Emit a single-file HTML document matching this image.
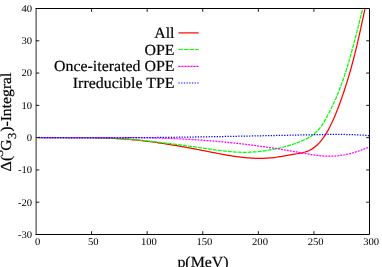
<!DOCTYPE html>
<html><head><meta charset="utf-8"><title>Plot</title>
<style>
html,body{margin:0;padding:0;background:#fff;}
body{width:382px;height:267px;overflow:hidden;position:relative;}
svg{position:absolute;left:0;top:0;display:block;}
text{font-family:"Liberation Serif",serif;fill:#000;text-rendering:geometricPrecision;}
.b text{stroke:#000;stroke-width:0.2;}
.t{filter:grayscale(1);}
</style></head><body>
<svg width="382" height="267" viewBox="0 0 382 267">
<rect x="0" y="0" width="382" height="267" fill="#fff"/>
<defs><clipPath id="c"><rect x="36.00" y="8.50" width="333.50" height="226.00"/></clipPath></defs>
<g clip-path="url(#c)" fill="none" stroke-width="1.25">
<path d="M38.50,137.62 L40.57,137.63 L42.63,137.64 L44.70,137.65 L46.76,137.65 L48.83,137.65 L50.90,137.65 L52.96,137.65 L55.03,137.64 L57.09,137.64 L59.16,137.63 L61.23,137.62 L63.29,137.62 L65.36,137.61 L67.42,137.60 L69.49,137.60 L71.56,137.60 L73.62,137.59 L75.69,137.59 L77.75,137.60 L79.82,137.60 L81.89,137.61 L83.95,137.62 L86.02,137.64 L88.08,137.66 L90.15,137.68 L92.22,137.71 L94.28,137.74 L96.35,137.78 L98.42,137.82 L100.48,137.87 L102.55,137.93 L104.61,138.00 L106.68,138.07 L108.75,138.14 L110.81,138.23 L112.88,138.33 L114.94,138.43 L117.01,138.54 L119.08,138.66 L121.14,138.79 L123.21,138.93 L125.27,139.08 L127.34,139.24 L129.41,139.41 L131.47,139.60 L133.54,139.79 L135.60,139.99 L137.67,140.20 L139.74,140.42 L141.80,140.65 L143.87,140.89 L145.93,141.14 L148.00,141.39 L150.07,141.66 L152.13,141.93 L154.20,142.21 L156.26,142.49 L158.33,142.79 L160.40,143.09 L162.46,143.40 L164.53,143.72 L166.59,144.04 L168.66,144.37 L170.73,144.70 L172.79,145.04 L174.86,145.39 L176.92,145.74 L178.99,146.09 L181.06,146.45 L183.12,146.82 L185.19,147.19 L187.25,147.56 L189.32,147.94 L191.39,148.32 L193.45,148.71 L195.52,149.10 L197.58,149.49 L199.65,149.89 L201.72,150.28 L203.78,150.68 L205.85,151.08 L207.92,151.49 L209.98,151.89 L212.05,152.30 L214.11,152.70 L216.18,153.10 L218.25,153.50 L220.31,153.89 L222.38,154.27 L224.44,154.65 L226.51,155.01 L228.58,155.37 L230.64,155.71 L232.71,156.04 L234.77,156.35 L236.84,156.64 L238.91,156.92 L240.97,157.18 L243.04,157.42 L245.10,157.63 L247.17,157.82 L249.24,157.99 L251.30,158.13 L253.37,158.24 L255.43,158.32 L257.50,158.37 L259.57,158.39 L261.63,158.38 L263.70,158.33 L265.76,158.24 L267.83,158.12 L269.90,157.96 L271.96,157.76 L274.03,157.52 L276.09,157.25 L278.16,156.95 L280.23,156.63 L282.29,156.29 L284.36,155.94 L286.42,155.58 L288.49,155.21 L290.56,154.83 L292.62,154.47 L294.69,154.10 L296.75,153.75 L298.82,153.40 L300.89,153.02 L302.95,152.57 L305.02,152.01 L307.08,151.33 L309.15,150.47 L311.22,149.41 L313.28,148.12 L315.35,146.57 L317.42,144.75 L319.48,142.63 L321.55,140.20 L323.61,137.44 L325.68,134.33 L327.75,130.85 L329.81,126.99 L331.88,122.74 L333.94,118.15 L336.01,113.21 L338.08,107.97 L340.14,102.43 L342.21,96.63 L344.27,90.55 L346.34,84.16 L348.41,77.43 L350.47,70.32 L352.54,62.79 L354.60,54.79 L356.67,46.30 L358.74,37.36 L360.80,28.07 L362.87,18.53 L364.93,8.85 L367.00,-0.86" stroke="#f00"/>
<path d="M38.50,137.63 L40.55,137.62 L42.60,137.62 L44.66,137.62 L46.71,137.61 L48.76,137.60 L50.81,137.60 L52.87,137.59 L54.92,137.58 L56.97,137.58 L59.02,137.57 L61.07,137.57 L63.13,137.56 L65.18,137.56 L67.23,137.56 L69.28,137.56 L71.34,137.56 L73.39,137.56 L75.44,137.57 L77.49,137.57 L79.54,137.58 L81.60,137.60 L83.65,137.62 L85.70,137.64 L87.75,137.66 L89.81,137.69 L91.86,137.72 L93.91,137.76 L95.96,137.80 L98.01,137.84 L100.07,137.90 L102.12,137.95 L104.17,138.01 L106.22,138.08 L108.27,138.15 L110.33,138.23 L112.38,138.32 L114.43,138.41 L116.48,138.51 L118.54,138.62 L120.59,138.73 L122.64,138.85 L124.69,138.98 L126.74,139.12 L128.80,139.27 L130.85,139.42 L132.90,139.58 L134.95,139.75 L137.01,139.92 L139.06,140.11 L141.11,140.29 L143.16,140.49 L145.21,140.69 L147.27,140.90 L149.32,141.12 L151.37,141.34 L153.42,141.56 L155.48,141.79 L157.53,142.03 L159.58,142.27 L161.63,142.51 L163.68,142.76 L165.74,143.02 L167.79,143.28 L169.84,143.54 L171.89,143.81 L173.95,144.07 L176.00,144.35 L178.05,144.62 L180.10,144.90 L182.15,145.18 L184.21,145.47 L186.26,145.75 L188.31,146.04 L190.36,146.33 L192.42,146.62 L194.47,146.91 L196.52,147.20 L198.57,147.50 L200.62,147.79 L202.68,148.09 L204.73,148.38 L206.78,148.68 L208.83,148.97 L210.88,149.26 L212.94,149.55 L214.99,149.84 L217.04,150.12 L219.09,150.38 L221.15,150.64 L223.20,150.89 L225.25,151.12 L227.30,151.34 L229.35,151.54 L231.41,151.72 L233.46,151.88 L235.51,152.02 L237.56,152.14 L239.62,152.22 L241.67,152.29 L243.72,152.32 L245.77,152.32 L247.82,152.29 L249.88,152.22 L251.93,152.12 L253.98,151.99 L256.03,151.82 L258.09,151.63 L260.14,151.40 L262.19,151.15 L264.24,150.87 L266.29,150.57 L268.35,150.24 L270.40,149.89 L272.45,149.52 L274.50,149.12 L276.56,148.70 L278.61,148.26 L280.66,147.78 L282.71,147.28 L284.76,146.75 L286.82,146.18 L288.87,145.58 L290.92,144.95 L292.97,144.27 L295.03,143.56 L297.08,142.81 L299.13,142.02 L301.18,141.18 L303.23,140.30 L305.29,139.37 L307.34,138.35 L309.39,137.22 L311.44,135.92 L313.49,134.41 L315.55,132.67 L317.60,130.63 L319.65,128.28 L321.70,125.56 L323.76,122.43 L325.81,118.89 L327.86,115.02 L329.91,110.94 L331.96,106.73 L334.02,102.42 L336.07,97.89 L338.12,93.06 L340.17,87.84 L342.23,82.21 L344.28,76.20 L346.33,69.83 L348.38,63.11 L350.43,56.06 L352.49,48.71 L354.54,41.08 L356.59,33.18 L358.64,25.04 L360.70,16.68 L362.75,8.11 L364.80,-0.64" stroke="#0f0" stroke-dasharray="4 1"/>
<path d="M38.50,137.61 L40.60,137.62 L42.69,137.63 L44.79,137.63 L46.89,137.64 L48.99,137.64 L51.08,137.65 L53.18,137.65 L55.28,137.65 L57.38,137.65 L59.47,137.65 L61.57,137.64 L63.67,137.64 L65.77,137.63 L67.86,137.63 L69.96,137.62 L72.06,137.62 L74.16,137.61 L76.25,137.60 L78.35,137.59 L80.45,137.59 L82.55,137.58 L84.64,137.57 L86.74,137.56 L88.84,137.56 L90.94,137.55 L93.03,137.54 L95.13,137.54 L97.23,137.53 L99.33,137.53 L101.42,137.52 L103.52,137.52 L105.62,137.52 L107.72,137.52 L109.81,137.52 L111.91,137.52 L114.01,137.53 L116.11,137.53 L118.20,137.54 L120.30,137.55 L122.40,137.56 L124.50,137.57 L126.59,137.58 L128.69,137.60 L130.79,137.61 L132.89,137.63 L134.98,137.66 L137.08,137.68 L139.18,137.71 L141.28,137.74 L143.37,137.77 L145.47,137.81 L147.57,137.85 L149.67,137.89 L151.76,137.94 L153.86,137.98 L155.96,138.03 L158.06,138.09 L160.15,138.15 L162.25,138.21 L164.35,138.28 L166.45,138.34 L168.54,138.42 L170.64,138.50 L172.74,138.58 L174.84,138.66 L176.93,138.75 L179.03,138.85 L181.13,138.94 L183.23,139.05 L185.32,139.16 L187.42,139.27 L189.52,139.39 L191.62,139.51 L193.71,139.63 L195.81,139.77 L197.91,139.90 L200.01,140.05 L202.10,140.19 L204.20,140.35 L206.30,140.50 L208.40,140.67 L210.49,140.83 L212.59,141.01 L214.69,141.18 L216.79,141.37 L218.88,141.55 L220.98,141.75 L223.08,141.94 L225.18,142.14 L227.27,142.35 L229.37,142.56 L231.47,142.78 L233.57,143.00 L235.66,143.23 L237.76,143.46 L239.86,143.70 L241.96,143.94 L244.05,144.19 L246.15,144.44 L248.25,144.70 L250.35,144.96 L252.44,145.23 L254.54,145.50 L256.64,145.77 L258.74,146.05 L260.83,146.34 L262.93,146.63 L265.03,146.93 L267.13,147.23 L269.22,147.53 L271.32,147.85 L273.42,148.16 L275.52,148.48 L277.61,148.81 L279.71,149.14 L281.81,149.47 L283.91,149.81 L286.00,150.16 L288.10,150.51 L290.20,150.86 L292.30,151.22 L294.39,151.58 L296.49,151.95 L298.59,152.32 L300.69,152.69 L302.78,153.06 L304.88,153.43 L306.98,153.81 L309.08,154.17 L311.17,154.52 L313.27,154.84 L315.37,155.14 L317.47,155.41 L319.56,155.65 L321.66,155.85 L323.76,156.01 L325.86,156.13 L327.95,156.20 L330.05,156.22 L332.15,156.19 L334.25,156.09 L336.34,155.94 L338.44,155.72 L340.54,155.45 L342.64,155.13 L344.73,154.75 L346.83,154.32 L348.93,153.84 L351.03,153.31 L353.12,152.74 L355.22,152.12 L357.32,151.46 L359.42,150.76 L361.51,150.02 L363.61,149.25 L365.71,148.44 L367.81,147.60 L369.90,146.72 L372.00,145.82" stroke="#f0f" stroke-dasharray="2 1"/>
<path d="M38.50,137.46 L40.60,137.49 L42.69,137.52 L44.79,137.54 L46.89,137.57 L48.99,137.59 L51.08,137.61 L53.18,137.63 L55.28,137.65 L57.38,137.67 L59.47,137.69 L61.57,137.71 L63.67,137.72 L65.77,137.74 L67.86,137.75 L69.96,137.76 L72.06,137.77 L74.16,137.78 L76.25,137.79 L78.35,137.80 L80.45,137.81 L82.55,137.82 L84.64,137.82 L86.74,137.83 L88.84,137.83 L90.94,137.83 L93.03,137.83 L95.13,137.84 L97.23,137.84 L99.33,137.83 L101.42,137.83 L103.52,137.83 L105.62,137.83 L107.72,137.82 L109.81,137.82 L111.91,137.81 L114.01,137.80 L116.11,137.79 L118.20,137.79 L120.30,137.78 L122.40,137.77 L124.50,137.75 L126.59,137.74 L128.69,137.73 L130.79,137.72 L132.89,137.70 L134.98,137.69 L137.08,137.67 L139.18,137.65 L141.28,137.64 L143.37,137.62 L145.47,137.60 L147.57,137.58 L149.67,137.56 L151.76,137.54 L153.86,137.52 L155.96,137.50 L158.06,137.48 L160.15,137.45 L162.25,137.43 L164.35,137.40 L166.45,137.38 L168.54,137.35 L170.64,137.33 L172.74,137.30 L174.84,137.27 L176.93,137.25 L179.03,137.22 L181.13,137.19 L183.23,137.16 L185.32,137.13 L187.42,137.10 L189.52,137.07 L191.62,137.04 L193.71,137.00 L195.81,136.97 L197.91,136.94 L200.01,136.91 L202.10,136.87 L204.20,136.84 L206.30,136.80 L208.40,136.77 L210.49,136.73 L212.59,136.70 L214.69,136.66 L216.79,136.62 L218.88,136.59 L220.98,136.55 L223.08,136.51 L225.18,136.48 L227.27,136.44 L229.37,136.40 L231.47,136.36 L233.57,136.32 L235.66,136.28 L237.76,136.24 L239.86,136.20 L241.96,136.16 L244.05,136.12 L246.15,136.08 L248.25,136.04 L250.35,136.00 L252.44,135.96 L254.54,135.92 L256.64,135.87 L258.74,135.83 L260.83,135.79 L262.93,135.75 L265.03,135.71 L267.13,135.66 L269.22,135.62 L271.32,135.58 L273.42,135.53 L275.52,135.49 L277.61,135.45 L279.71,135.41 L281.81,135.36 L283.91,135.32 L286.00,135.28 L288.10,135.23 L290.20,135.19 L292.30,135.15 L294.39,135.10 L296.49,135.06 L298.59,135.01 L300.69,134.97 L302.78,134.93 L304.88,134.88 L306.98,134.84 L309.08,134.80 L311.17,134.75 L313.27,134.71 L315.37,134.67 L317.47,134.63 L319.56,134.59 L321.66,134.55 L323.76,134.52 L325.86,134.49 L327.95,134.46 L330.05,134.44 L332.15,134.43 L334.25,134.42 L336.34,134.41 L338.44,134.42 L340.54,134.43 L342.64,134.45 L344.73,134.48 L346.83,134.52 L348.93,134.57 L351.03,134.63 L353.12,134.70 L355.22,134.78 L357.32,134.87 L359.42,134.98 L361.51,135.10 L363.61,135.24 L365.71,135.39 L367.81,135.55 L369.90,135.74 L372.00,135.93" stroke="#00f" stroke-dasharray="1.3 1.4"/>
</g>
<g stroke="#000" stroke-width="0.90" fill="none">
<path d="M36.10,8.00 V235.00" stroke-width="0.85"/>
<path d="M35.70,8.50 H369.50 V234.50 H35.70" stroke-width="1"/>
<path d="M36.00,202.21 h3.30 M369.50,202.21 h-3.30"/>
<path d="M36.00,169.93 h3.30 M369.50,169.93 h-3.30"/>
<path d="M36.00,137.64 h3.30 M369.50,137.64 h-3.30"/>
<path d="M36.00,105.36 h3.30 M369.50,105.36 h-3.30"/>
<path d="M36.00,73.07 h3.30 M369.50,73.07 h-3.30"/>
<path d="M36.00,40.79 h3.30 M369.50,40.79 h-3.30"/>
<path d="M91.58,234.50 v-3.30 M91.58,8.50 v3.30"/>
<path d="M147.17,234.50 v-3.30 M147.17,8.50 v3.30"/>
<path d="M202.75,234.50 v-3.30 M202.75,8.50 v3.30"/>
<path d="M258.33,234.50 v-3.30 M258.33,8.50 v3.30"/>
<path d="M313.92,234.50 v-3.30 M313.92,8.50 v3.30"/>
</g>
<g class="t">
<text transform="translate(32.10,237.90) scale(1.0330,1)" font-size="10.3" text-anchor="end">-30</text>
<text transform="translate(32.10,205.61) scale(1.0330,1)" font-size="10.3" text-anchor="end">-20</text>
<text transform="translate(32.10,173.33) scale(1.0330,1)" font-size="10.3" text-anchor="end">-10</text>
<text transform="translate(32.10,141.04) scale(1.0330,1)" font-size="10.3" text-anchor="end">0</text>
<text transform="translate(32.10,108.76) scale(1.0330,1)" font-size="10.3" text-anchor="end">10</text>
<text transform="translate(32.10,76.47) scale(1.0330,1)" font-size="10.3" text-anchor="end">20</text>
<text transform="translate(32.10,44.19) scale(1.0330,1)" font-size="10.3" text-anchor="end">30</text>
<text transform="translate(32.10,11.90) scale(1.0330,1)" font-size="10.3" text-anchor="end">40</text>
<text transform="translate(37.70,244.60) scale(1.0330,1)" font-size="10.3" text-anchor="middle">0</text>
<text transform="translate(93.28,244.60) scale(1.0330,1)" font-size="10.3" text-anchor="middle">50</text>
<text transform="translate(148.87,244.60) scale(1.0330,1)" font-size="10.3" text-anchor="middle">100</text>
<text transform="translate(204.45,244.60) scale(1.0330,1)" font-size="10.3" text-anchor="middle">150</text>
<text transform="translate(260.03,244.60) scale(1.0330,1)" font-size="10.3" text-anchor="middle">200</text>
<text transform="translate(315.62,244.60) scale(1.0330,1)" font-size="10.3" text-anchor="middle">250</text>
<text transform="translate(371.20,244.60) scale(1.0330,1)" font-size="10.3" text-anchor="middle">300</text>
<g class="b">
<text transform="translate(174.50,37.75) scale(1.0330,1)" font-size="15.4" text-anchor="end">All</text>
<text transform="translate(174.50,54.80) scale(1.0330,1)" font-size="15.4" text-anchor="end">OPE</text>
<text transform="translate(174.50,71.00) scale(1.0330,1)" font-size="15.4" text-anchor="end">Once-iterated OPE</text>
<text transform="translate(174.50,87.65) scale(1.0330,1)" font-size="15.4" text-anchor="end">Irreducible TPE</text>
<text transform="translate(203.00,266.70) scale(1.0330,1)" font-size="15.4" text-anchor="middle">p(MeV)</text>
<text transform="translate(11.10,171.40) rotate(-90) scale(1.0537,1)" font-size="15.2">Δ</text>
<text transform="translate(11.10,160.90) rotate(-90) scale(1.0330,1)" font-size="15.2">(</text>
<text transform="translate(2.50,156.30) rotate(-90) scale(1.0330,1)" font-size="12.2">3</text>
<text transform="translate(11.10,150.70) rotate(-90) scale(1.0330,1)" font-size="15.2">G</text>
<text transform="translate(15.90,138.90) rotate(-90) scale(1.0330,1)" font-size="12.2">3</text>
<text transform="translate(11.10,131.80) rotate(-90) scale(1.0330,1)" font-size="15.2">)-Integral</text>
</g></g>
<path d="M178.4,32.90 H198.7" stroke="#f00" stroke-width="1.20" fill="none"/>
<path d="M178.4,49.50 H198.7" stroke="#0f0" stroke-width="1.20" fill="none" stroke-dasharray="4.5 1.0"/>
<path d="M178.4,66.45 H198.7" stroke="#f0f" stroke-width="1.20" fill="none" stroke-dasharray="2.2 0.8"/>
<path d="M178.4,83.00 H198.7" stroke="#00f" stroke-width="1.20" fill="none" stroke-dasharray="1.3 1.4"/>
</svg></body></html>
